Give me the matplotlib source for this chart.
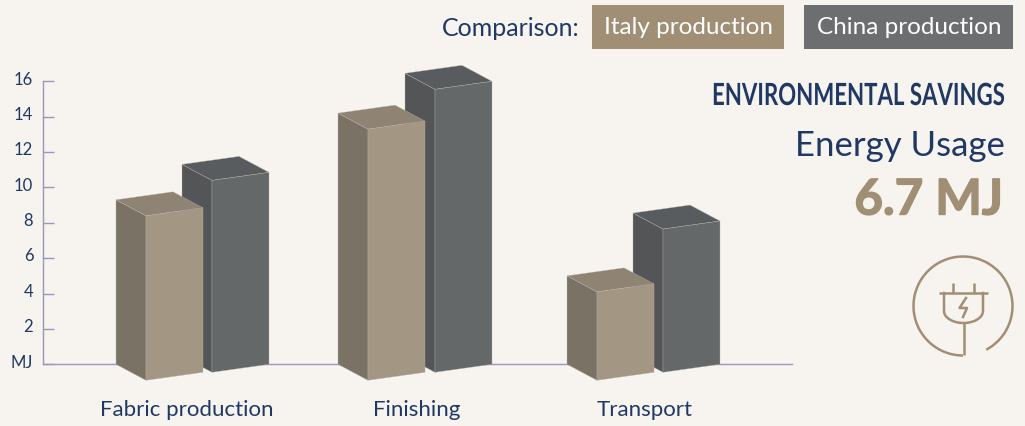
import numpy as np
import matplotlib
matplotlib.use("Agg")
import matplotlib.pyplot as plt
from matplotlib.patches import Polygon, Rectangle, Arc
from matplotlib.patheffects import AbstractPathEffect, withStroke
from matplotlib.transforms import Affine2D, ScaledTranslation

# chart values (MJ)
categories = ['Fabric production', 'Finishing', 'Transport']
italy = [9.3, 14.2, 5.0]
china = [10.85, 16.0, 8.1]
y_ticks = [0, 2, 4, 6, 8, 10, 12, 14, 16]
y_labels = ['MJ', '2', '4', '6', '8', '10', '12', '14', '16']

# colours
BG = '#f7f4ef'
NAVY = '#1f3864'
TAN = '#a08f75'
GREY = '#6d6e70'
AXIS = '#9a98b8'
ITALY_COL = ('#a39683', '#7a7265', '#8f8373')  # front, side, top
CHINA_COL = ('#646869', '#545557', '#595c5e')

# layout in pixels
W, H = 1025, 426
AX_L, AX_R, AX_TOP, AX_BASE = 43, 792, 81.3, 364.3
ITALY_X = [116, 338, 567]
CHINA_X = [182, 405, 633]
LABEL_X = [187, 416.5, 645]
DEPTH_X, DEPTH_Y = 30, 16
FRONT_W, FRONT_RISE = 57, 8
CHINA_LIFT = 8

plt.rcParams['font.family'] = ['Lato', 'DejaVu Sans']


class Squeeze(AbstractPathEffect):
    # no condensed bold installed, so narrow the glyphs around a fixed x
    def __init__(self, x0, sx):
        super().__init__()
        self.x0 = x0
        self.sx = sx

    def draw_path(self, renderer, gc, tpath, affine, rgbFace=None):
        squeeze = Affine2D().translate(-self.x0, 0).scale(self.sx, 1).translate(self.x0, 0)
        renderer.draw_path(gc, tpath, affine + squeeze, rgbFace)


fig = plt.figure(figsize=(W / 100, H / 100), dpi=100, facecolor=BG)
ax = fig.add_axes([AX_L / W, (H - AX_BASE) / H, (AX_R - AX_L) / W, (AX_BASE - AX_TOP) / H])
ax.set_facecolor('none')
ax.set_xlim(AX_L, AX_R)
ax.set_ylim(0, 16)
px = 16 / (AX_BASE - AX_TOP)  # MJ per pixel


def draw_bar(x, value, lift, cols):
    # back-left corner of the box sits at (x, base), everything else hangs off it
    base = lift * px
    top = base + value
    dy = DEPTH_Y * px
    rise = FRONT_RISE * px
    xf = x + DEPTH_X
    xr = xf + FRONT_W
    front = [(xf, top - dy), (xr, top - dy + rise), (xr, base - dy + rise), (xf, base - dy)]
    side = [(x, top), (xf, top - dy), (xf, base - dy), (x, base)]
    lid = [(x, top), (x + FRONT_W, top + rise), (xr, top - dy + rise), (xf, top - dy)]
    for pts, col in zip((side, lid, front), (cols[1], cols[2], cols[0])):
        ax.add_patch(Polygon(pts, closed=True, facecolor=col, edgecolor='#b8b4ac', lw=0.25,
                             clip_on=False, zorder=3))


for i in range(len(categories)):
    draw_bar(CHINA_X[i], china[i], CHINA_LIFT, CHINA_COL)
    draw_bar(ITALY_X[i], italy[i], 0, ITALY_COL)

for s in ['top', 'right']:
    ax.spines[s].set_visible(False)
for s in ['left', 'bottom']:
    ax.spines[s].set_color(AXIS)
    ax.spines[s].set_linewidth(1.0)

ax.set_yticks(y_ticks)
ax.set_yticklabels(y_labels, fontsize=12, color=NAVY)
ax.tick_params(axis='y', direction='in', length=8, width=1.0, color=AXIS, pad=7)
for lab in ax.get_yticklabels():
    lab.set_transform(lab.get_transform() + ScaledTranslation(0, 2.3 / 72, fig.dpi_scale_trans))
ax.set_xticks(LABEL_X)
ax.set_xticklabels(categories, fontsize=16, color=NAVY)
ax.tick_params(axis='x', length=0, pad=26)

# overlay in pixel coordinates for the key, the headline and the icon
ov = fig.add_axes([0, 0, 1, 1])
ov.set_xlim(0, W)
ov.set_ylim(H, 0)
ov.axis('off')
ov.patch.set_visible(False)

ov.text(580, 28, 'Comparison:', ha='right', va='center', fontsize=18, color=NAVY)
ov.add_patch(Rectangle((592, 5), 192, 44, facecolor=TAN, edgecolor='none'))
ov.add_patch(Rectangle((804, 5), 209, 44, facecolor=GREY, edgecolor='none'))
ov.text(688.5, 28, 'Italy production', ha='center', va='center', fontsize=17.5, color='white')
ov.text(909.5, 28, 'China production', ha='center', va='center', fontsize=17.5, color='white')

ov.text(1005, 96, 'ENVIRONMENTAL SAVINGS', ha='right', va='center', fontsize=22,
        fontweight='bold', color=NAVY, path_effects=[Squeeze(1005, 0.727)])
ov.text(1005, 146, 'Energy Usage', ha='right', va='center', fontsize=25, color=NAVY)
ov.text(1003, 200, '6.7 MJ', ha='right', va='center', fontsize=35.5, fontweight='bold', color=TAN,
        path_effects=[withStroke(linewidth=1.0, foreground=TAN)])

# plug icon
lw = 1.8
ov.add_patch(Arc((963, 306), 99, 99, theta1=90, theta2=422, color=TAN, lw=lw))
ov.plot([939, 988], [293, 293], color=TAN, lw=lw, solid_capstyle='butt')
ov.plot([953, 953], [283, 293], color=TAN, lw=lw, solid_capstyle='butt')
ov.plot([974, 974], [283, 293], color=TAN, lw=lw, solid_capstyle='butt')
t = np.linspace(0, np.pi, 30)
body_x = np.r_[944, 963.5 - 19.5 * np.cos(t), 983]
body_y = np.r_[293, 311 + 12 * np.sin(t), 293]
ov.plot(body_x, body_y, color=TAN, lw=lw)
ov.plot([964, 964], [323, 355], color=TAN, lw=lw, solid_capstyle='butt')
ov.plot([966, 959.5, 967, 963], [298, 308, 308, 317], color=TAN, lw=lw)

fig.savefig('out.png', dpi=100, facecolor=BG)
